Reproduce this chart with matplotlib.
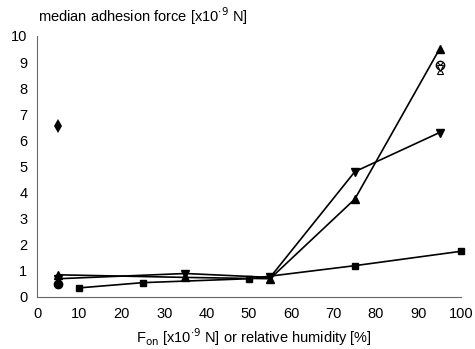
import numpy as np
import matplotlib
matplotlib.use('Agg')
import matplotlib.pyplot as plt

plt.rcParams['font.family'] = ['Liberation Sans', 'DejaVu Sans']

# data
sq_x = [10, 25, 50, 75, 100]
sq_y = [0.35, 0.55, 0.7, 1.2, 1.75]
up_x = [5, 35, 55, 75, 95]
up_y = [0.85, 0.75, 0.7, 3.75, 9.5]
dn_x = [5, 35, 55, 75, 95]
dn_y = [0.7, 0.9, 0.75, 4.8, 6.3]
ci_x = [5]
ci_y = [0.5]
di_x = [5]
di_y = [6.55]
cx_x = [95]
cx_y = [8.9]
hg_x = [95]
hg_y = [8.65]

xticks = list(range(0, 101, 10))
yticks = list(range(0, 11))

fig = plt.figure(figsize=(4.75, 3.49), dpi=100)
ax = fig.add_axes([0.078, 0.149, 0.892, 0.748])

ax.plot(sq_x, sq_y, '-s', color='k', lw=1.2, ms=5, clip_on=False)
ax.plot(up_x, up_y, '-^', color='k', lw=1.2, ms=6, clip_on=False)
ax.plot(dn_x, dn_y, '-v', color='k', lw=1.2, ms=6)
ax.plot(ci_x, ci_y, 'o', color='k', ms=6)
ax.plot(di_x, di_y, linestyle='none', marker='d', color='k', ms=7, mew=0)
ax.plot(cx_x, cx_y, 'o', mfc='white', mec='k', ms=6)
ax.plot(cx_x, cx_y, 'x', color='k', ms=4, mew=0.8)
ax.plot(hg_x, hg_y, '^', mfc='white', mec='k', ms=4, mew=0.8)
ax.plot(hg_x, [v + 0.12 for v in hg_y], 'v', mfc='white', mec='k', ms=4, mew=0.8)

ax.set_xlim(0, 100)
ax.set_ylim(0, 10)
ax.set_xticks(xticks)
ax.set_yticks(yticks)
ax.tick_params(length=0, labelsize=10.5, pad=7)
for s in ['top', 'right']:
    ax.spines[s].set_visible(False)
for s in ['left', 'bottom']:
    ax.spines[s].set_color('#666666')
    ax.spines[s].set_linewidth(0.8)
    ax.spines[s].set_linestyle((0, (12, 1)))

fig.text(0.08, 0.955, 'median adhesion force [x10$^{\\cdot9}$ N]', fontsize=10.5,
         ha='left', va='center')
fig.text(0.535, 0.035, 'F$_{\\rm on}$ [x10$^{\\cdot9}$ N] or relative humidity [%]', fontsize=10.5,
         ha='center', va='center')

fig.savefig('out.png', dpi=100)
